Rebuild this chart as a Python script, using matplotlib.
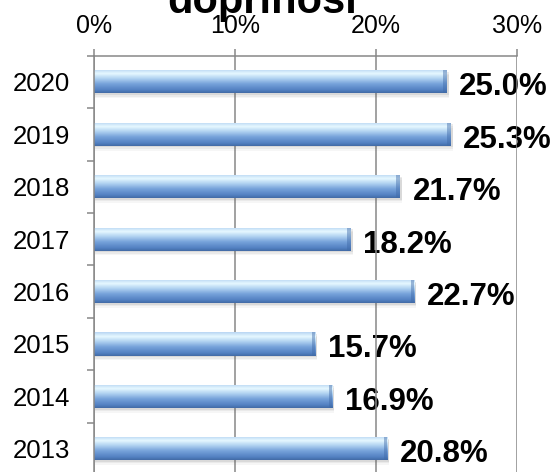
import matplotlib
matplotlib.use('Agg')
import matplotlib.pyplot as plt
import numpy as np
from matplotlib.colors import LinearSegmentedColormap
from matplotlib.patches import Rectangle

plt.rcParams['font.family'] = ['Liberation Sans', 'DejaVu Sans']

years = ['2020', '2019', '2018', '2017', '2016', '2015', '2014', '2013']
values = [25.0, 25.3, 21.7, 18.2, 22.7, 15.7, 16.9, 20.8]
x_ticks = [0, 10, 20, 30]
title = 'doprinosi'

GRAY = '#878787'
BAR_H = 0.44

# glossy blue, top to bottom
bar_cmap = LinearSegmentedColormap.from_list('gloss', [
    (0.0, '#b9d6f3'), (0.18, '#e6f8ff'), (0.38, '#b3d4f2'),
    (0.62, '#76a2da'), (0.88, '#5381c2'), (1.0, '#426ba6')])

fig = plt.figure(figsize=(5.52, 4.72), dpi=100)
ax = fig.add_axes([0.1703, -0.0064, 0.7663, 0.8884])

y = np.arange(len(years))
grad = np.linspace(0, 1, 64).reshape(-1, 1)
for yi, v in zip(y, values):
    # soft shadow under the bar
    for k, a in enumerate([0.12, 0.08, 0.05]):
        ax.add_patch(Rectangle((0.1, yi - BAR_H / 2 + 0.03 * (k + 1)), v + 0.05, BAR_H,
                               facecolor='#606060', edgecolor='none', alpha=a, zorder=2))
    rect = Rectangle((0, yi - BAR_H / 2), v, BAR_H, facecolor='none', edgecolor='none', zorder=3)
    ax.add_patch(rect)
    im = ax.imshow(grad, cmap=bar_cmap, aspect='auto', interpolation='bilinear',
                   extent=(0, v, yi + BAR_H / 2, yi - BAR_H / 2), zorder=3)
    im.set_clip_path(rect)
    # darker bevel at the right end
    ax.add_patch(Rectangle((v - 0.25, yi - BAR_H / 2), 0.25, BAR_H,
                           facecolor='#3f6aa8', edgecolor='none', alpha=0.45, zorder=4))
    # value labels sit under the gridlines, as in the original
    ax.annotate(f'{v:.1f}%', xy=(v, yi), xytext=(9, -9.7), textcoords='offset points',
                ha='left', va='baseline', fontsize=22.5, fontweight='bold', color='black',
                zorder=0.4)

ax.set_xlim(0, 30)
ax.set_ylim(len(years) - 0.5, -0.5)

ax.xaxis.tick_top()
ax.set_xticks(x_ticks)
ax.set_xticklabels([f'{t}%' for t in x_ticks])
ax.tick_params(axis='x', top=True, bottom=False, direction='out', length=7.5 * 0.72,
               width=1.1, color=GRAY, pad=7, labelsize=18)

ax.set_yticks(y)
ax.set_yticklabels(years)
ax.set_yticks(np.arange(len(years) + 1) - 0.5, minor=True)
ax.tick_params(axis='y', which='major', length=0, pad=17, labelsize=18.5)
ax.tick_params(axis='y', which='minor', length=7.5 * 0.72, width=1.1, color=GRAY)

ax.xaxis.grid(True, color=GRAY, linewidth=1.1)
ax.set_axisbelow(True)
for side in ['right', 'bottom']:
    ax.spines[side].set_visible(False)
for side in ['top', 'left']:
    ax.spines[side].set_color(GRAY)
    ax.spines[side].set_linewidth(1.1)
    ax.spines[side].set_zorder(6)

fig.text(262.5 / 552, 1 - 12.5 / 472, title, ha='center', va='baseline',
         fontsize=30, fontweight='bold')

fig.savefig('out.png', dpi=100)
